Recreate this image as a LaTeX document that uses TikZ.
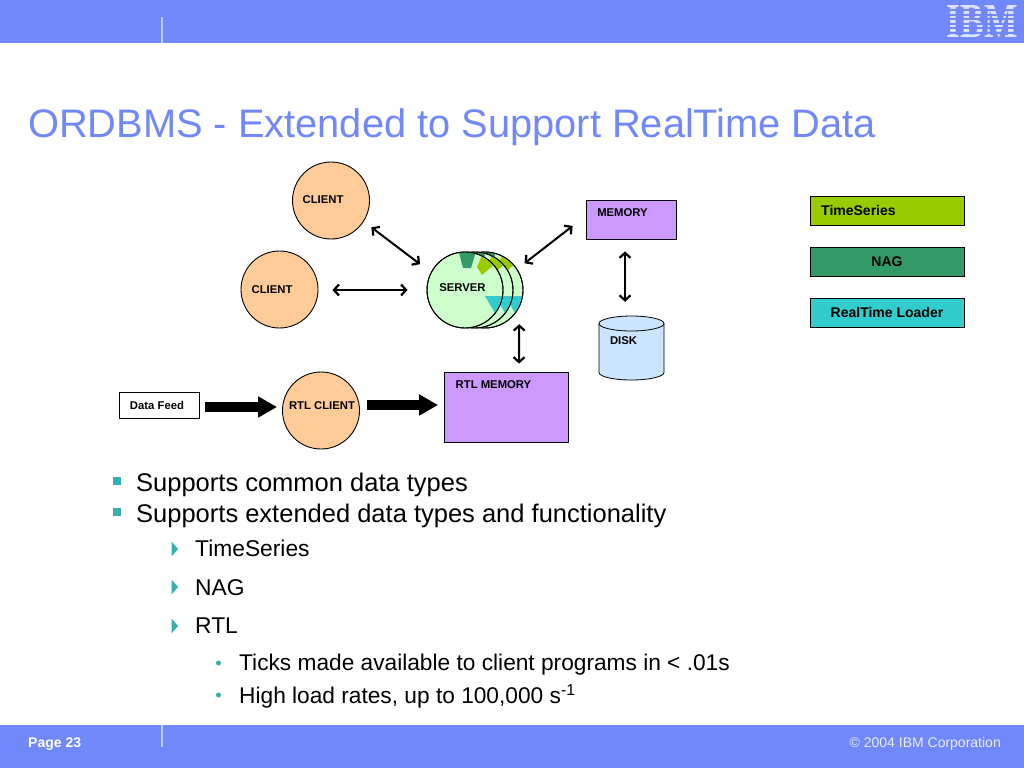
\documentclass[tikz,border=0pt]{standalone}
\usepackage{fontspec}
\setmainfont{Liberation Sans}
\newfontfamily\logofont{Liberation Serif}
\usetikzlibrary{arrows.meta}
\definecolor{band}{RGB}{112,136,250}
\definecolor{tick}{RGB}{190,200,250}
\definecolor{teal}{RGB}{51,176,176}
\definecolor{orangec}{RGB}{255,204,153}
\definecolor{serverc}{RGB}{204,255,204}
\definecolor{purplec}{RGB}{204,153,255}
\definecolor{diskc}{RGB}{204,229,255}
\definecolor{greenc}{RGB}{153,204,0}
\definecolor{seac}{RGB}{51,153,102}
\definecolor{cyanc}{RGB}{51,204,204}
\newcommand{\fs}[1]{\fontsize{#1}{#1}\selectfont}
\tikzset{
  x=1pt,y=-1pt,
  disc/.style={circle,draw=black,line width=0.9pt,inner sep=0pt,minimum size=77pt},
  srv/.style={circle,draw=black,line width=0.9pt,fill=serverc,inner sep=0pt,minimum size=76pt},
  boxn/.style={rectangle,draw=black,line width=0.8pt,inner sep=0pt},
  lbl/.style={font=\bfseries\fs{11.3},inner sep=0pt,text=black},
  legend/.style={font=\bfseries\fs{14},inner sep=0pt,text=black},
  dbl/.style={{Straight Barb[length=5pt,width=11pt,line width=2.2pt]}-{Straight Barb[length=5pt,width=11pt,line width=2.2pt]},line width=2pt,black},
  block/.style={line width=10pt,black,-{Triangle[length=19pt,width=20pt]}},
  b1/.style={font=\fs{25.5},anchor=base west,inner sep=0pt,text=black},
  b2/.style={font=\fs{22.8},anchor=base west,inner sep=0pt,text=black},
  b3/.style={font=\fs{22.7},anchor=base west,inner sep=0pt,text=black},
}
\newcommand{\serverlayer}[2]{%
  \node[srv] (#2) at (#1,290) {};
  \begin{scope}
    \clip (#1,290) circle (38);
    \begin{scope}[shift={(#1-465,0)}]
      \fill[seac] (457,245) -- (463,268) -- (471,268) -- (478,245) -- cycle;
      \fill[greenc] (485,248) -- (477,267) -- (482,275) -- (501,259) -- cycle;
      \fill[cyanc] (485,296) -- (495,313) -- (530,313) -- (530,296) -- cycle;
    \end{scope}
  \end{scope}
  \draw[black,line width=0.9pt] (#1,290) circle (38);
}
\begin{document}
\begin{tikzpicture}
\useasboundingbox (0,0) rectangle (1024,768);
\fill[white] (0,0) rectangle (1024,768);
% bands
\fill[band] (0,0) rectangle (1024,43);
\fill[band] (0,725) rectangle (1024,768);
\fill[tick] (161.2,17) rectangle (162.8,43);
\fill[tick] (161.2,725) rectangle (162.8,747);
% logo
\node[inner sep=0pt,text=white!75!band] (logo) at (982,22) {\logofont\bfseries\fs{31}\resizebox{71pt}{32pt}{IBM}};
\foreach \yy in {9.5,14,18.5,23,27.5,32}
  \fill[band] (944,\yy) rectangle (1020,\yy+1.8);
% title
\node[anchor=base west,inner sep=0pt,text=band,font=\fs{39.8}] (title) at (28,137) {ORDBMS - Extended to Support RealTime Data};
% nodes
\node[disc,fill=orangec] (c1) at (331,200.5) {};
\node[disc,fill=orangec] (c2) at (279.5,289.5) {};
\node[disc,fill=orangec] (rtl) at (321,410.5) {};
\serverlayer{485}{s3}
\serverlayer{475}{s2}
\serverlayer{465}{server}
\node[boxn,fill=purplec,minimum width=90pt,minimum height=39pt] (mem) at (631.5,220) {};
\node[boxn,fill=purplec,minimum width=124pt,minimum height=70pt] (rtlmem) at (506.5,407) {};
\node[boxn,fill=white,minimum width=80pt,minimum height=26pt] (feed) at (159,405) {};
\node[minimum width=65pt,minimum height=64pt,inner sep=0pt] (disk) at (631.5,348) {};
\draw[fill=diskc,draw=black,line width=0.8pt] (599,323.5) .. controls (599,319.4) and (613.5,316) .. (631.5,316) .. controls (649.5,316) and (664,319.4) .. (664,323.5) -- (664,372.5) .. controls (664,376.6) and (649.5,380) .. (631.5,380) .. controls (613.5,380) and (599,376.6) .. (599,372.5) -- cycle;
\draw[black,line width=0.8pt] (599,323.5) .. controls (599,327.6) and (613.5,331) .. (631.5,331) .. controls (649.5,331) and (664,327.6) .. (664,323.5);
% labels
\node[lbl] (lc1) at (323,199.5) {CLIENT};
\node[lbl] (lc2) at (272,289.5) {CLIENT};
\node[lbl] (lrtl) at (322,405.5) {RTL CLIENT};
\node[lbl] (lsrv) at (462.5,288) {SERVER};
\node[lbl] (lmem) at (622.5,212.5) {MEMORY};
\node[lbl] (lrm) at (493.5,384.5) {RTL MEMORY};
\node[lbl] (ldisk) at (623.5,341) {DISK};
\node[lbl] (lfeed) at (157,405) {Data Feed};
% connectors
\draw[dbl] ([shift={(8.5,4.5)}]c1.-35) -- ([shift={(-12,-6)}]server.149);
\draw[dbl] ([shift={(14,0.5)}]c2.east) -- ([shift={(-19,0)}]server.west);
\draw[dbl] ([shift={(11,-1)}]s3.42) -- ([shift={(-13.5,6)}]mem.west);
\draw[dbl] ([shift={(-6.5,11.5)}]mem.south) -- ([shift={(-6.5,-14)}]disk.north);
\draw[dbl] ([shift={(0,16.7)}]s3.-27) -- ([shift={(12.5,-8)}]rtlmem.north);
\draw[block] ([shift={(6,2)}]feed.east) -- ([shift={(-5,-3.5)}]rtl.west);
\draw[block] ([shift={(7,-5.5)}]rtl.east) -- ([shift={(-6,-2)}]rtlmem.west);
% legend
\node[boxn,fill=greenc,minimum width=154pt,minimum height=29pt] (lg1) at (887,210.5) {};
\node[legend,anchor=west] (lt1) at (821,210.5) {TimeSeries};
\node[boxn,fill=seac,minimum width=154pt,minimum height=29pt] (lg2) at (887,261.5) {};
\node[legend] (lt2) at (887,261.5) {NAG};
\node[boxn,fill=cyanc,minimum width=154pt,minimum height=29pt] (lg3) at (887,312.5) {};
\node[legend] (lt3) at (887,312.5) {RealTime Loader};
% bullets
\fill[teal] (113,477) rectangle (120.5,485);
\fill[teal] (113,508) rectangle (120.5,516);
\node[b1] (t1) at (136,491) {Supports common data types};
\node[b1] (t2) at (136,522) {Supports extended data types and functionality};
\foreach \yy in {549,587,626}
  \fill[teal] (171.5,\yy-7.5) -- (178,\yy) -- (171.5,\yy+7.5) -- cycle;
\node[b2] (t3) at (195,556) {TimeSeries};
\node[b2] (t4) at (195,595) {NAG};
\node[b2] (t5) at (195,633) {RTL};
\fill[teal] (218.5,663) circle (2.5);
\fill[teal] (218.5,695) circle (2.5);
\node[b3] (t6) at (239,670) {Ticks made available to client programs in < .01s};
\node[b3] (t7) at (239,703) {High load rates, up to 100,000 s\textsuperscript{-1}};
% footer
\node[anchor=base west,inner sep=0pt,text=white,font=\bfseries\fs{14}] (pg) at (28,747) {Page 23};
\node[anchor=base east,inner sep=0pt,text=white!85!band,font=\fs{14}] (cp) at (1001,747) {© 2004 IBM Corporation};
\end{tikzpicture}
\end{document}
